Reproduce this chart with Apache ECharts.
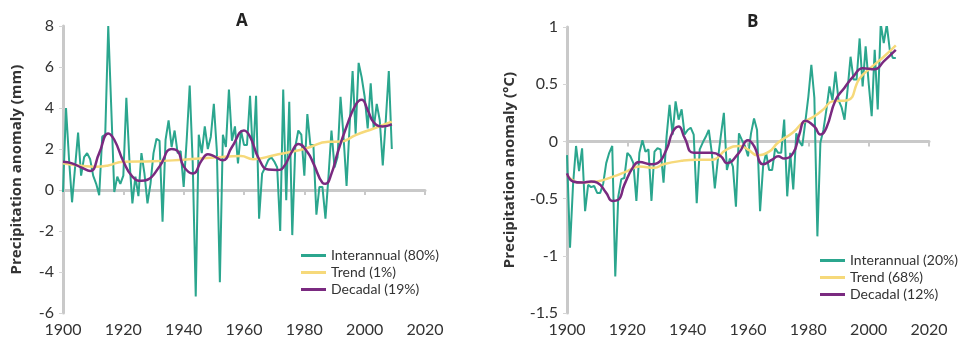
<!DOCTYPE html>
<html>
<head>
<meta charset="utf-8">
<script src="https://cdn.jsdelivr.net/npm/echarts@6/dist/echarts.min.js"></script>
<style>
  html, body { margin: 0; padding: 0; background: #fff; }
  #chart { width: 969px; height: 346px; }
</style>
</head>
<body>
<div id="chart"></div>
<script>
// years 1900..2009
var years = [];
for (var y = 1900; y <= 2009; y++) years.push(y);

// panel A - precipitation (mm)
var interA = [
  -0.1, 4.0, 1.5, -0.6, 1.1, 2.8, 0.7, 1.6, 1.8, 1.5,
  0.7, 0.3, -0.25, 2.6, 2.7, 8.0, 4.0, -0.1, 0.65, 0.3,
  0.7, 4.5, 1.5, -0.65, 0.65, -0.3, 1.8, 0.8, -0.65, 0.3,
  1.8, 2.5, 2.4, -1.55, 2.45, 3.4, 2.1, 2.9, 1.8, 1.9,
  0.15, 2.45, 5.1, 1.3, -5.2, 2.7, 1.8, 3.1, 2.0, 2.6,
  4.2, 1.9, -4.5, 2.7, 2.1, 4.9, 2.4, 3.1, 1.3, 2.9,
  2.2, 2.2, 4.6, 1.5, 4.6, -1.4, 0.8, 1.1, 1.45, 1.6,
  1.4, 1.1, -2.0, 4.9, -0.5, 4.3, -2.2, 2.1, 2.9, 2.7,
  0.7, 3.7, 2.2, 2.2, -1.2, 0.15, 0.15, -1.4, 0.65, 2.9,
  1.1, 1.6, 4.55, 2.6, 0.2, 3.1, 5.8, 2.75, 6.2, 5.5,
  4.55, 3.0, 5.2, 3.0, 4.2, 3.4, 1.2, 3.4, 5.8, 2.0
];
var trendA = [
  [1900, 1.3], [1905, 1.2], [1911, 1.14], [1915, 1.2], [1920, 1.38], [1930, 1.4],
  [1940, 1.48], [1950, 1.58], [1959, 1.66], [1963, 1.5], [1970, 1.7], [1977, 1.9],
  [1981, 2.05], [1988, 2.35], [1992, 2.36], [1997, 2.68], [2003, 3.0], [2009, 3.33]
];
var decadalA = [
  [1900, 1.38], [1903, 1.3], [1906, 1.1], [1909, 0.93], [1912, 1.8], [1915, 2.76],
  [1917, 2.45], [1920, 1.4], [1923, 0.65], [1926, 0.45], [1928, 0.5], [1932, 1.15],
  [1936, 2.0], [1938, 1.9], [1940, 1.15], [1943, 0.8], [1946, 1.45], [1948, 1.75],
  [1950, 1.65], [1953, 1.45], [1956, 2.1], [1960, 2.9], [1962, 2.6], [1965, 1.5],
  [1968, 1.0], [1971, 0.98], [1973, 1.1], [1976, 1.9], [1978, 2.25], [1981, 1.85],
  [1983, 1.3], [1986, 0.35], [1987, 0.3], [1989, 0.8], [1991, 1.8], [1994, 3.1],
  [1997, 4.15], [1999, 4.4], [2001, 3.9], [2003, 3.3], [2006, 3.1], [2009, 3.2]
];

// panel B - temperature (°C)
var interB = [
  -0.12, -0.93, -0.38, -0.04, -0.26, -0.06, -0.61, -0.38, -0.4, -0.39,
  -0.45, -0.45, -0.37, -0.19, -0.1, -0.04, -1.18, -0.48, -0.33, -0.32,
  -0.1, -0.13, -0.19, -0.52, -0.1, 0.01, -0.09, -0.07, -0.52, -0.09,
  -0.06, -0.07, -0.36, 0.04, 0.32, 0.06, 0.35, 0.19, 0.28, 0.06,
  0.1, 0.12, 0.06, -0.54, -0.07, -0.01, 0.04, 0.1, -0.1, -0.41,
  -0.16, 0.05, 0.25, -0.25, -0.15, -0.22, -0.57, 0.07, 0.01, -0.04,
  -0.13, 0.07, 0.2, 0.1, -0.61, -0.22, -0.1, -0.25, -0.25, -0.06,
  -0.1, -0.1, 0.19, -0.48, -0.1, -0.42, 0.07, 0.0, -0.04, 0.17,
  0.39, 0.67, 0.38, -0.83, -0.01, 0.1, 0.28, 0.48, 0.36, 0.61,
  0.36, 0.3, 0.19, 0.45, 0.74, 0.54, 0.54, 0.9, 0.48, 0.83,
  0.51, 0.22, 0.8, 0.28, 1.03, 0.86, 1.02, 0.8, 0.73, 0.73
];
var trendB = [
  [1900, -0.29], [1904, -0.36], [1910, -0.35], [1915, -0.31], [1920, -0.26], [1924, -0.22],
  [1929, -0.23], [1932, -0.2], [1938, -0.17], [1943, -0.16], [1948, -0.16], [1953, -0.07],
  [1957, -0.04], [1960, -0.07], [1963, -0.12], [1967, -0.09], [1970, -0.01], [1975, 0.08],
  [1978, 0.16], [1982, 0.22], [1985, 0.28], [1988, 0.35], [1993, 0.36], [1997, 0.55],
  [2001, 0.65], [2005, 0.74], [2009, 0.84]
];
var decadalB = [
  [1900, -0.28], [1902, -0.35], [1905, -0.36], [1908, -0.35], [1910, -0.36], [1913, -0.45],
  [1915, -0.52], [1917, -0.51], [1919, -0.38], [1922, -0.22], [1924, -0.18], [1928, -0.2],
  [1930, -0.19], [1933, -0.07], [1935, 0.08], [1937, 0.13], [1939, 0.03], [1942, -0.1],
  [1948, -0.1], [1951, -0.13], [1953, -0.19], [1957, -0.1], [1960, 0.01], [1962, -0.04],
  [1965, -0.2], [1968, -0.16], [1970, -0.13], [1972, -0.15], [1975, -0.1], [1977, 0.06],
  [1979, 0.18], [1982, 0.13], [1984, 0.06], [1986, 0.12], [1989, 0.36], [1992, 0.47],
  [1995, 0.57], [1998, 0.64], [2002, 0.63], [2005, 0.7], [2009, 0.8]
];

var xTicks = { min: 1900, max: 2020, interval: 20 };
var namesA = ['Interannual (80%)', 'Trend (1%)', 'Decadal (19%)'];
var namesB = ['Interannual (20%)', 'Trend (68%)', 'Decadal (12%)'];

var cTeal = '#2ba68e', cYellow = '#f6d97a', cPurple = '#7a2a80';
var font = 'Lato, "Open Sans", sans-serif';
var nameFont = '"Open Sans", Lato, sans-serif';

function pairs(vals) {
  return vals.map(function (v, i) { return [years[i], v]; });
}

function xAxisCfg(idx) {
  return {
    type: 'value', gridIndex: idx, min: xTicks.min, max: xTicks.max, interval: xTicks.interval,
    axisLine: { show: true, lineStyle: { color: '#c9c9c9', width: 3 } },
    axisTick: { show: true, length: 5, lineStyle: { color: '#c9c9c9', width: 2 } },
    axisLabel: { color: '#333', fontSize: 16, fontFamily: font, margin: 9,
      formatter: function (v) { return String(v); } },
    splitLine: { show: false }
  };
}
function yAxisCfg(idx, min, max, interval, name, gap) {
  return {
    type: 'value', gridIndex: idx, min: min, max: max, interval: interval,
    name: name, nameLocation: 'middle', nameGap: gap,
    nameTextStyle: { color: '#333', fontSize: 15, fontWeight: 'bold', fontFamily: nameFont },
    axisLine: { show: true, lineStyle: { color: '#c9c9c9', width: 3 } },
    axisTick: { show: true, length: 4, lineStyle: { color: '#d5d5d5', width: 1 } },
    axisLabel: { color: '#333', fontSize: 16, fontFamily: font, margin: 9 },
    splitLine: { show: false }
  };
}
function legendCfg(names, left, top) {
  return {
    data: names, orient: 'vertical', left: left, top: top,
    icon: 'rect', itemWidth: 25, itemHeight: 3, itemGap: 0,
    textStyle: { color: '#333', fontSize: 14, fontFamily: font, lineHeight: 17 },
    selectedMode: false
  };
}
function lineSeries(name, data, idx, color, width, smooth) {
  return {
    name: name, type: 'line', xAxisIndex: idx, yAxisIndex: idx, data: data,
    showSymbol: false, symbol: 'none', smooth: smooth,
    lineStyle: { color: color, width: width }, itemStyle: { color: color },
    animation: false
  };
}

var chart = echarts.init(document.getElementById('chart'));
chart.setOption({
  backgroundColor: '#fff',
  title: [
    { text: 'A', left: 231, top: 8, textStyle: { fontSize: 17, fontWeight: 'bold', color: '#222', fontFamily: nameFont } },
    { text: 'B', left: 742, top: 9, textStyle: { fontSize: 17, fontWeight: 'bold', color: '#222', fontFamily: nameFont } }
  ],
  grid: [
    { left: 63, right: 544, top: 26, bottom: 33 },
    { left: 567, right: 40, top: 27, bottom: 33 }
  ],
  legend: [legendCfg(namesA, 296, 242), legendCfg(namesB, 815, 247)],
  xAxis: [xAxisCfg(0), xAxisCfg(1)],
  yAxis: [
    yAxisCfg(0, -6, 8, 2, 'Precipitation anomaly (mm)', 39),
    yAxisCfg(1, -1.5, 1, 0.5, 'Precipitation anomaly (°C)', 50)
  ],
  series: [
    lineSeries(namesA[0], pairs(interA), 0, cTeal, 2, false),
    lineSeries(namesA[1], trendA, 0, cYellow, 2.5, true),
    lineSeries(namesA[2], decadalA, 0, cPurple, 2.5, true),
    lineSeries(namesB[0], pairs(interB), 1, cTeal, 2, false),
    lineSeries(namesB[1], trendB, 1, cYellow, 2.5, true),
    lineSeries(namesB[2], decadalB, 1, cPurple, 2.5, true)
  ]
});
</script>
</body>
</html>
